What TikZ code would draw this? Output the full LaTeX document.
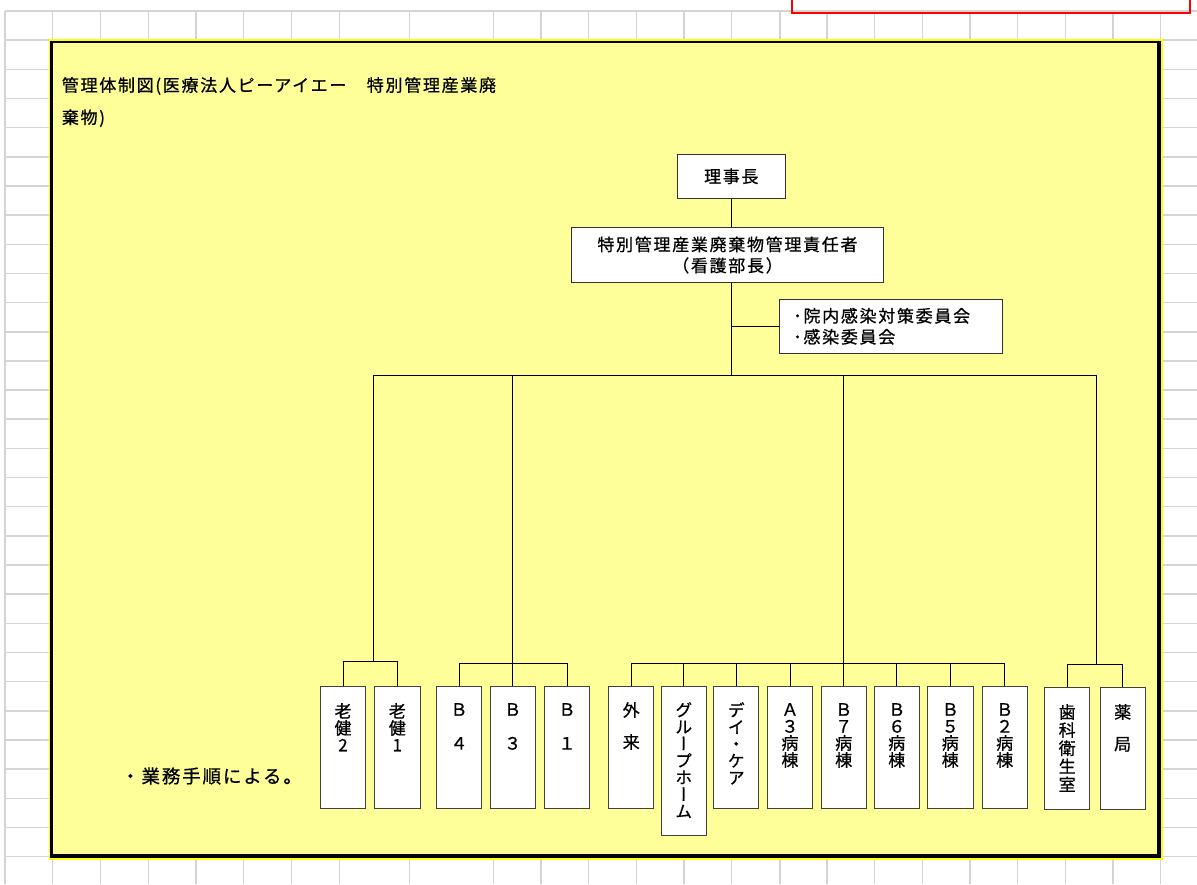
\documentclass[tikz,border=0pt]{standalone}
\usepackage{fontspec}
\setmainfont[FakeBold=0.7]{Noto Sans CJK JP}
\newfontfamily\jpwide[LetterSpace=10,FakeBold=0.7]{Noto Sans CJK JP}
\newfontfamily\jpvert[RawFeature=+vert,FakeBold=0.7]{Noto Sans CJK JP}
\definecolor{gridgray}{RGB}{212,212,212}
\definecolor{sheetyellow}{RGB}{255,255,153}
\definecolor{rimyellow}{RGB}{255,255,0}
\definecolor{markred}{RGB}{255,0,0}

\begin{document}
\begin{tikzpicture}[x=1pt,y=1pt]
\tikzstyle{every node}+=[inner sep=0pt]
\tikzstyle{gridline}=[gridgray, line width=1.5pt]
\tikzstyle{headbox}=[draw=black!80, fill=white, line width=1pt, font=\jpwide\fontsize{17}{21}\selectfont, align=center]
\tikzstyle{unit}=[draw=black!75, fill=white, line width=1pt, minimum width=45.4pt, minimum height=122.3pt]
\tikzstyle{vtext}=[anchor=north, align=center, font=\jpvert\fontsize{17}{16.9}\selectfont]
\tikzstyle{link}=[black, line width=1pt]
\useasboundingbox (0,0) rectangle (1197,-884);
% sheet grid
\foreach \gx in {5,52.7,100.7,148.3,196,243.7,291.7,339.3,409.3,493.7,541,588.7,636.7,684,731.7,780,827,874.7,922.7,970,1017.7,1065.3,1113,1160.3}
  \draw [gridline] (\gx,-11) -- (\gx,-884);
\foreach \k in {0,...,29}
  \draw [gridline] (5,-11-29.16*\k) -- (1197,-11-29.16*\k);
\draw [markred, line width=2.3pt] (792,0) -- (792,-12.7) -- (1190,-12.7) -- (1190,0);
% text box
\fill [rimyellow] (49,-39.3) rectangle (1162.7,-860);
\fill [black] (50.3,-40.7) rectangle (1161,-858.3);
\fill [sheetyellow] (52.7,-43.3) rectangle (1157,-854);
\node [anchor=west, font=\jpwide\fontsize{17}{17}\selectfont] (title1) at (61.7,-86) {管理体制図(医療法人ピーアイエー　特別管理産業廃};
\node [anchor=west, font=\jpwide\fontsize{17}{17}\selectfont] (title2) at (61.7,-118.3) {棄物)};
\node [anchor=west, font=\jpwide\fontsize{18.5}{18.5}\selectfont] (note) at (121,-776) {・業務手順による。};
% head of the chart
\node [headbox, minimum width=108pt, minimum height=44pt] (chief) at (731.3,-176.3) {理事長};
\node [headbox, minimum width=311.6pt, minimum height=54.6pt] (mgr) at (727.5,-255) {特別管理産業廃棄物管理責任者\\（看護部長）};
\node [headbox, align=left, text width=195.4pt, inner xsep=14pt, minimum height=54pt] (cmte) at (891,-326.3) {･院内感染対策委員会\\･感染委員会};
\draw [link] (chief.south) -- (chief.south |- mgr.north);
\coordinate (busL) at (373.3,-375);
\coordinate (busR) at (1096.7,-375);
\draw [link] (chief.south |- mgr.south) -- (chief.south |- busL);
\draw [link] (chief.south |- cmte.west) -- (cmte.west);
\draw [link] (busL) -- (busR);
% units
\node [unit] (rk2) at (343,-747.2) {};
\node [unit] (rk1) at (397.3,-747.2) {};
\node [unit] (b4) at (459,-747.2) {};
\node [unit] (b3) at (512.7,-747.2) {};
\node [unit] (b1) at (567,-747.2) {};
\node [unit] (gai) at (631.2,-747.2) {};
\node [unit, minimum height=149pt] (gh) at (683.7,-760.5) {};
\node [unit] (dc) at (736.2,-747.2) {};
\node [unit] (a3) at (790,-747.2) {};
\node [unit] (b7) at (843.7,-747.2) {};
\node [unit] (b6) at (896.8,-747.2) {};
\node [unit] (b5) at (950.3,-747.2) {};
\node [unit] (b2) at (1004.7,-747.2) {};
\node [unit] (dent) at (1067.2,-748.5) {};
\node [unit] (phar) at (1122.7,-748.5) {};
\node [vtext] (rk2-t) at (343,-703) {老\\健\\2};
\node [vtext] (rk1-t) at (397.3,-703) {老\\健\\1};
\node [vtext] (b4-t) at (459,-703) {Ｂ\\[17pt]４};
\node [vtext] (b3-t) at (512.7,-703) {Ｂ\\[17pt]３};
\node [vtext] (b1-t) at (567,-703) {Ｂ\\[17pt]１};
\node [vtext] (gai-t) at (631.2,-702) {外\\[15pt]来};
\node [vtext] (gh-t) at (683.7,-702) {グ\\ル\\ー\\プ\\ホ\\ー\\ム};
\node [vtext] (dc-t) at (736.2,-702) {デ\\イ\\・\\ケ\\ア};
\node [vtext] (a3-t) at (790,-703) {Ａ\\３\\病\\棟};
\node [vtext] (b7-t) at (843.7,-703) {Ｂ\\７\\病\\棟};
\node [vtext] (b6-t) at (896.8,-703) {Ｂ\\６\\病\\棟};
\node [vtext] (b5-t) at (950.3,-703) {Ｂ\\５\\病\\棟};
\node [vtext] (b2-t) at (1004.7,-703) {Ｂ\\２\\病\\棟};
\node [vtext, font=\jpvert\fontsize{17}{18.1}\selectfont] (dent-t) at (1067.2,-704) {歯\\科\\衛\\生\\室};
\node [vtext] (phar-t) at (1122.7,-704) {薬\\[15pt]局};
% branches
\coordinate (g1) at (373.3,-661);
\coordinate (g2) at (512.7,-663.3);
\coordinate (g3) at (843.7,-663.3);
\coordinate (g4) at (1096.7,-664.3);
\draw [link] (busL) -- (g1);
\draw [link] (rk2.north) |- (g1) -| (rk1.north);
\draw [link] (b3.north |- busL) -- (b3.north);
\draw [link] (b4.north) |- (g2) -| (b1.north);
\draw [link] (b7.north |- busL) -- (b7.north);
\draw [link] (gai.north) |- (g3) -| (b2.north);
\foreach \n in {gh,dc,a3,b6,b5}
  \draw [link] (\n.north) -- (\n.north |- g3);
\draw [link] (busR) -- (g4);
\draw [link] (dent.north) |- (g4) -| (phar.north);
\end{tikzpicture}
\end{document}
